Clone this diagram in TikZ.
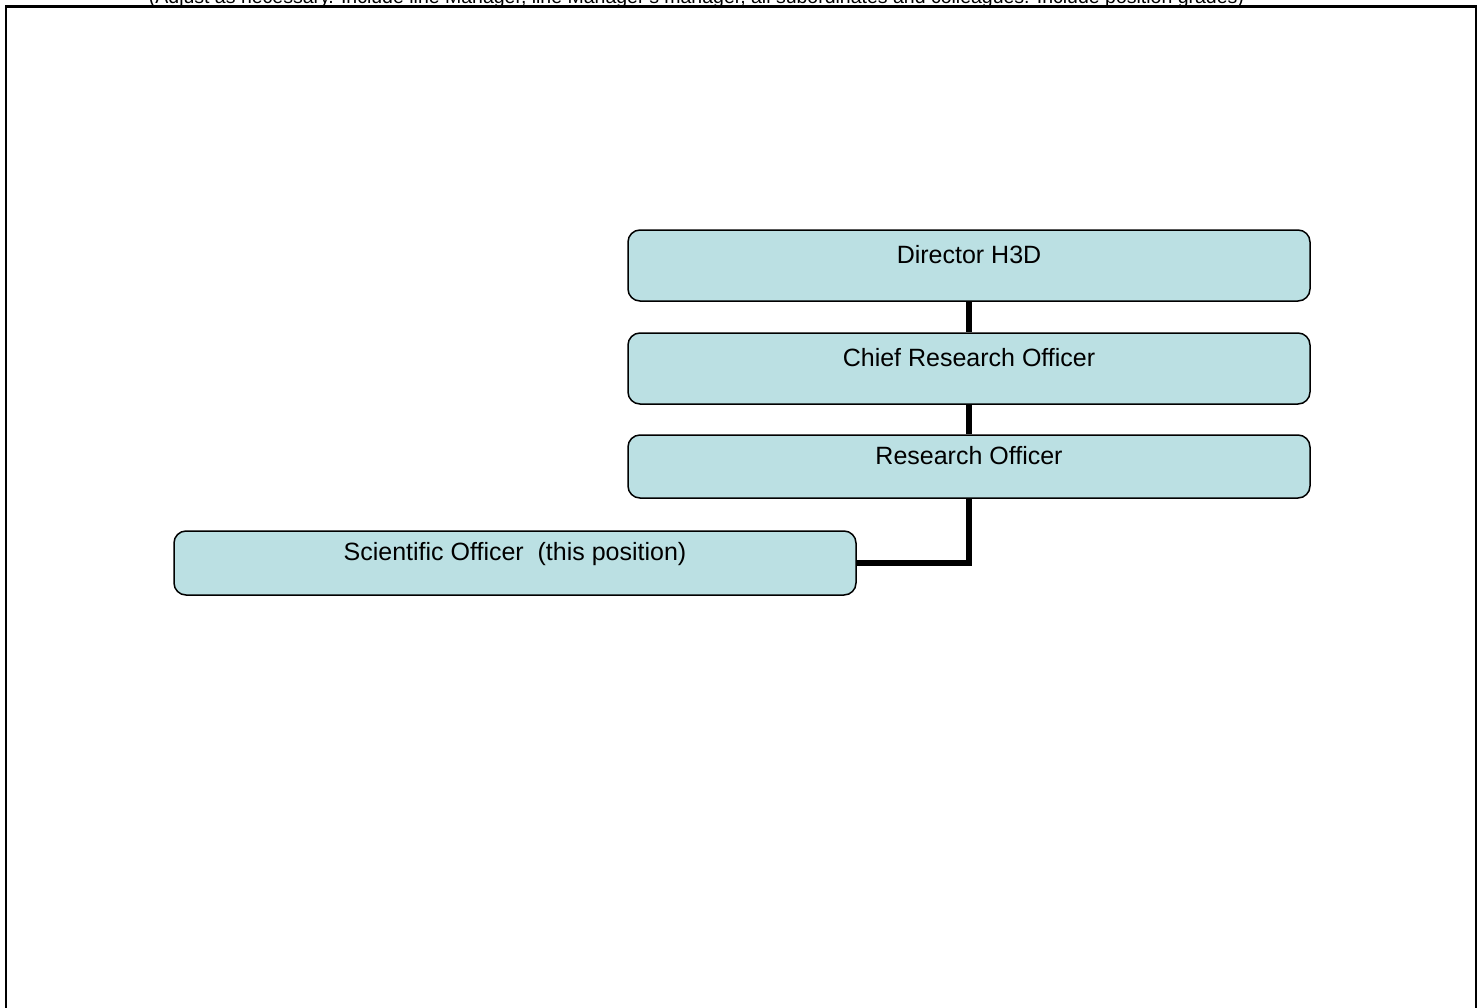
\documentclass[tikz,border=0pt]{standalone}
\usepackage{fontspec}
\setmainfont{Liberation Sans}
\usepackage{tikz}
\definecolor{boxfill}{HTML}{BBE0E3}

\begin{document}
\begin{tikzpicture}[x=1pt, y=-1pt,
pb/.style={draw=black, fill=boxfill, line width=1.5pt, rounded corners=12pt, inner sep=0pt,
  minimum width=682pt, text height=20pt, text depth=25pt, font=\fontsize{25}{30}\selectfont},
sl/.style={draw=black, line width=5.5pt},
]
\clip (0,0) rectangle (1483,1007);
\fill[white] (0,0) rectangle (1483,1007);
% frame and heading
\draw[line width=2.2pt] (6,1100)--(6,6.5)--(1476,6.5)--(1476,1100);
\node[anchor=base, font=\fontsize{19.5}{23}\selectfont] (head) at (696.5,3) {(Adjust as necessary. Include line Manager, line Manager's manager, all subordinates and colleagues. Include position grades)};
% positions
\node[pb, minimum height=71pt] (dir) at (969,265.5) {Director H3D};
\node[pb, minimum height=71pt] (cro) at (969,368.5) {Chief Research Officer};
\node[pb, minimum height=63pt] (ro) at (969,466.5) {Research Officer};
\node[pb, minimum height=64pt] (so) at (515,563) {Scientific Officer\ \ (this position)};
% lines
\draw[sl] (dir) -- (cro);
\draw[sl] (cro) -- (ro);
\draw[sl] (ro.south) |- (so.east);
\end{tikzpicture}
\end{document}
